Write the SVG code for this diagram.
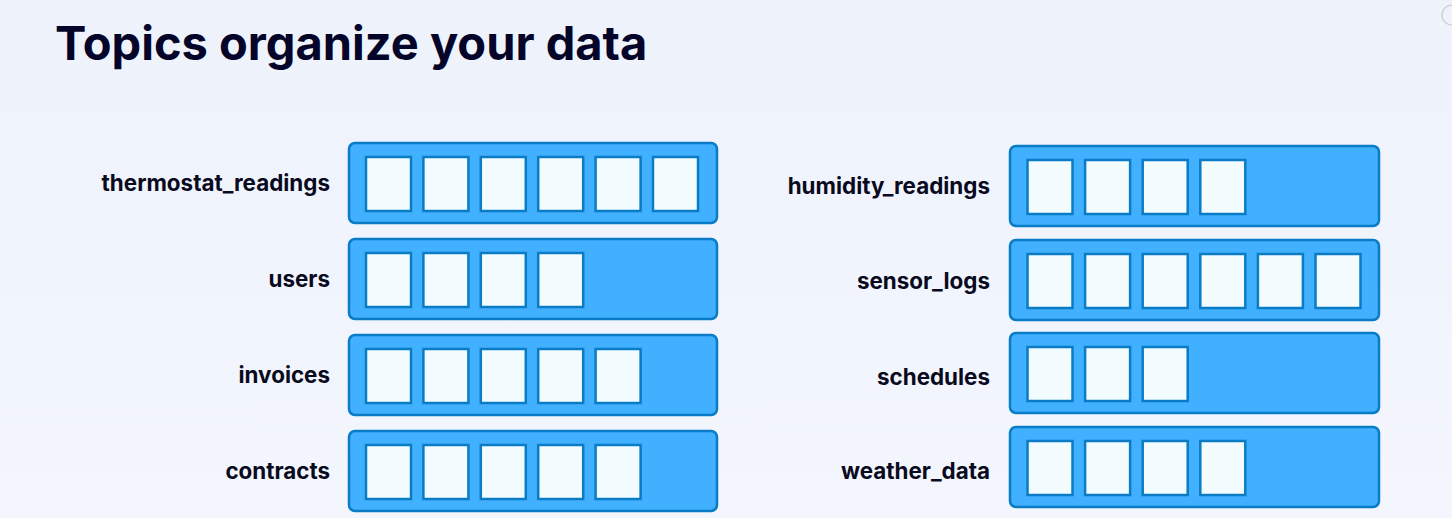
<svg xmlns="http://www.w3.org/2000/svg" width="1452" height="518" viewBox="0 0 1452 518">
<defs>
<linearGradient id="bg" x1="0" y1="0" x2="0" y2="1">
<stop offset="0" stop-color="#eef2fb"/>
<stop offset="1" stop-color="#f3f6fd"/>
</linearGradient>
</defs>
<style>
.bar{fill:#40b0ff;stroke:#0a7cc6;stroke-width:2.5}
.cell{fill:#f2fbfe;stroke:#0a7cc6;stroke-width:2.5}
.lbl{font-family:Inter,"Liberation Sans",sans-serif;font-weight:700;font-size:22.4px;fill:#0a0a1e;text-anchor:end}
.title{font-family:Inter,"Liberation Sans",sans-serif;font-weight:700;font-size:47px;fill:#05052a}
</style>
<rect width="1452" height="518" fill="url(#bg)"/>
<circle cx="1452" cy="15" r="10" fill="none" stroke="#c8cad0" stroke-width="1.2"/>
<text class="title" x="55" y="60">Topics organize your data</text>
<g id="connectors"/>
<g id="thermostat_readings">
<text class="lbl" x="330" y="191">thermostat_readings</text>
<rect class="bar" x="349" y="143" width="368" height="80" rx="6"/>
<rect class="cell" x="366" y="157" width="45" height="54"/>
<rect class="cell" x="423.4" y="157" width="45" height="54"/>
<rect class="cell" x="480.8" y="157" width="45" height="54"/>
<rect class="cell" x="538.2" y="157" width="45" height="54"/>
<rect class="cell" x="595.6" y="157" width="45" height="54"/>
<rect class="cell" x="653" y="157" width="45" height="54"/>
</g>
<g id="users">
<text class="lbl" x="330" y="287">users</text>
<rect class="bar" x="349" y="239" width="368" height="80" rx="6"/>
<rect class="cell" x="366" y="253" width="45" height="54"/>
<rect class="cell" x="423.4" y="253" width="45" height="54"/>
<rect class="cell" x="480.8" y="253" width="45" height="54"/>
<rect class="cell" x="538.2" y="253" width="45" height="54"/>
</g>
<g id="invoices">
<text class="lbl" x="330" y="383">invoices</text>
<rect class="bar" x="349" y="335" width="368" height="80" rx="6"/>
<rect class="cell" x="366" y="349" width="45" height="54"/>
<rect class="cell" x="423.4" y="349" width="45" height="54"/>
<rect class="cell" x="480.8" y="349" width="45" height="54"/>
<rect class="cell" x="538.2" y="349" width="45" height="54"/>
<rect class="cell" x="595.6" y="349" width="45" height="54"/>
</g>
<g id="contracts">
<text class="lbl" x="330" y="479">contracts</text>
<rect class="bar" x="349" y="431" width="368" height="80" rx="6"/>
<rect class="cell" x="366" y="445" width="45" height="54"/>
<rect class="cell" x="423.4" y="445" width="45" height="54"/>
<rect class="cell" x="480.8" y="445" width="45" height="54"/>
<rect class="cell" x="538.2" y="445" width="45" height="54"/>
<rect class="cell" x="595.6" y="445" width="45" height="54"/>
</g>
<g id="humidity_readings">
<text class="lbl" x="990" y="194">humidity_readings</text>
<rect class="bar" x="1010" y="146" width="369" height="80" rx="6"/>
<rect class="cell" x="1027.5" y="160" width="45" height="54"/>
<rect class="cell" x="1085.1" y="160" width="45" height="54"/>
<rect class="cell" x="1142.7" y="160" width="45" height="54"/>
<rect class="cell" x="1200.3" y="160" width="45" height="54"/>
</g>
<g id="sensor_logs">
<text class="lbl" x="990" y="289">sensor_logs</text>
<rect class="bar" x="1010" y="240" width="369" height="80" rx="6"/>
<rect class="cell" x="1027.5" y="254" width="45" height="54"/>
<rect class="cell" x="1085.1" y="254" width="45" height="54"/>
<rect class="cell" x="1142.7" y="254" width="45" height="54"/>
<rect class="cell" x="1200.3" y="254" width="45" height="54"/>
<rect class="cell" x="1257.9" y="254" width="45" height="54"/>
<rect class="cell" x="1315.5" y="254" width="45" height="54"/>
</g>
<g id="schedules">
<text class="lbl" x="990" y="385">schedules</text>
<rect class="bar" x="1010" y="333" width="369" height="80" rx="6"/>
<rect class="cell" x="1027.5" y="347" width="45" height="54"/>
<rect class="cell" x="1085.1" y="347" width="45" height="54"/>
<rect class="cell" x="1142.7" y="347" width="45" height="54"/>
</g>
<g id="weather_data">
<text class="lbl" x="990" y="479">weather_data</text>
<rect class="bar" x="1010" y="427" width="369" height="80" rx="6"/>
<rect class="cell" x="1027.5" y="441" width="45" height="54"/>
<rect class="cell" x="1085.1" y="441" width="45" height="54"/>
<rect class="cell" x="1142.7" y="441" width="45" height="54"/>
<rect class="cell" x="1200.3" y="441" width="45" height="54"/>
</g>
</svg>
